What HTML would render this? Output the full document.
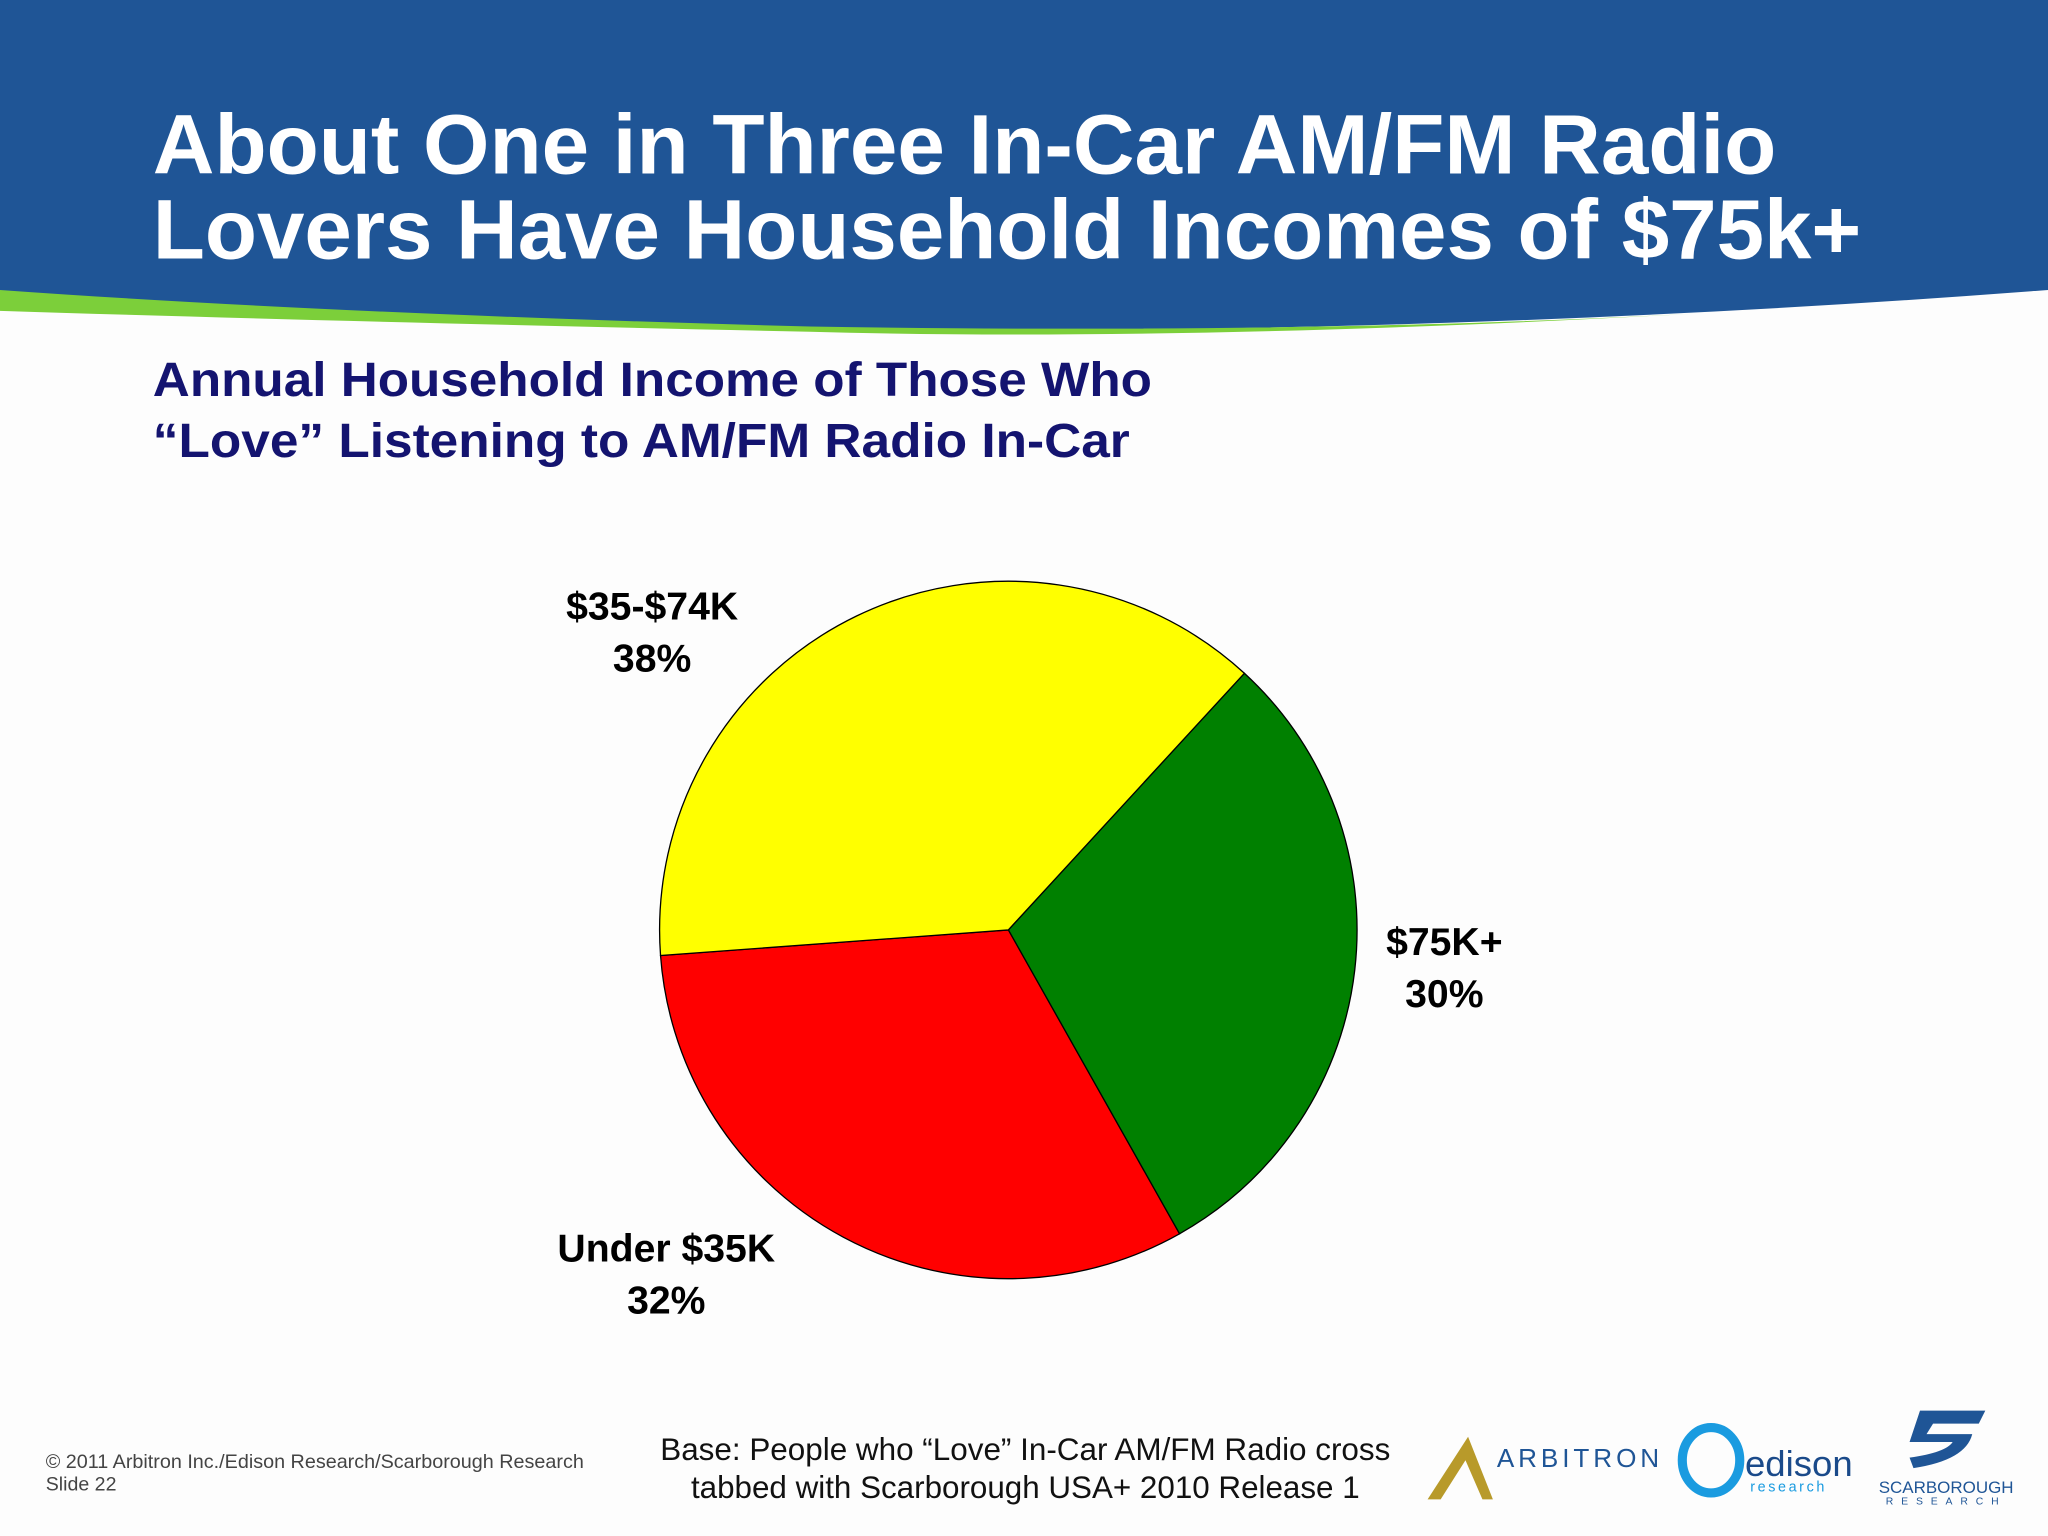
<!DOCTYPE html>
<html><head><meta charset="utf-8"><style>
html,body{margin:0;padding:0;background:#fff}
svg{display:block;font-family:"Liberation Sans",Arial,sans-serif}
</style></head><body>
<svg width="2048" height="1536" viewBox="0 0 1568 1176" xmlns="http://www.w3.org/2000/svg">
<rect width="1568" height="1176" fill="#fdfdfd"/>
<g>
<path d="M0 0H1568V222Q1100 258 620 252Q250 245 0 224Z" fill="#1f5596"/>
<path d="M0 222Q250 240 620 250Q1000 256 1300 240Q900 262 620 254Q250 246 0 238Z" fill="#7ccf3a"/>
</g>
<text fill="#fff" font-weight="bold" font-size="65" x="117" y="133" textLength="1243" lengthAdjust="spacingAndGlyphs">About One in Three In-Car AM/FM Radio</text>
<text fill="#fff" font-weight="bold" font-size="65" x="117" y="198" textLength="1308" lengthAdjust="spacingAndGlyphs">Lovers Have Household Incomes of $75k+</text>
<text fill="#141470" font-weight="bold" font-size="37" x="117" y="303" textLength="765" lengthAdjust="spacingAndGlyphs">Annual Household Income of Those Who</text>
<text fill="#141470" font-weight="bold" font-size="37" x="117" y="350" textLength="748" lengthAdjust="spacingAndGlyphs">“Love” Listening to AM/FM Radio In-Car</text>
<g id="pie"></g>
<g id="labels" font-weight="bold" font-size="30" fill="#000" text-anchor="middle"></g>
<text x="35" y="1124" font-size="15" fill="#444" textLength="412" lengthAdjust="spacingAndGlyphs">© 2011 Arbitron Inc./Edison Research/Scarborough Research</text>
<text x="35" y="1141" font-size="15" fill="#444">Slide 22</text>
<text x="785" y="1118" font-size="24" text-anchor="middle" fill="#111" textLength="559" lengthAdjust="spacingAndGlyphs">Base: People who “Love” In-Car AM/FM Radio cross</text>
<text x="785" y="1147" font-size="24" text-anchor="middle" fill="#111" textLength="512" lengthAdjust="spacingAndGlyphs">tabbed with Scarborough USA+ 2010 Release 1</text>
<g>
<path d="M1093 1148L1124 1100L1143 1148L1135 1148L1122 1118L1103 1148Z" fill="#b89a2a"/>
<text x="1146" y="1123" font-size="20" fill="#1f5596" letter-spacing="3">ARBITRON</text>
</g>
<g>
<ellipse cx="1310" cy="1118" rx="22" ry="25" fill="none" stroke="#1a9be0" stroke-width="7"/>
<text x="1336" y="1130" font-size="28" fill="#1a4a8a">edison</text>
<text x="1340" y="1142" font-size="11" fill="#1a9be0" letter-spacing="2">research</text>
</g>
<g>
<path d="M1470 1080H1520L1515 1090H1480L1475 1098H1510Q1505 1118 1465 1124L1462 1116Q1490 1112 1495 1104H1462Z" fill="#1f5596"/>
<text x="1490" y="1143" font-size="13" text-anchor="middle" fill="#1f5596">SCARBOROUGH</text>
<text x="1490" y="1152" font-size="8" text-anchor="middle" fill="#1f5596" letter-spacing="6">RESEARCH</text>
</g>
</svg>
<script>
const categories=["$75K+","Under $35K","$35-$74K"];
const values=[30,32,38];
const colors=["#008000","#ff0000","#ffff00"];
const startAngle=42.6;
const cx=772,cy=712,r=267;
const ns="http://www.w3.org/2000/svg";
const pie=document.getElementById('pie');
const lab=document.getElementById('labels');
const total=values.reduce((a,b)=>a+b,0);
function pt(deg,rad){const a=deg*Math.PI/180;return [cx+rad*Math.sin(a),cy-rad*Math.cos(a)];}
let a0=startAngle;
const labelDist=[335,371,356];
const labelAngleShift=[-1.8,16.7,-24.2];
values.forEach((v,i)=>{
  const sweep=v/total*360,a1=a0+sweep;
  const p0=pt(a0,r),p1=pt(a1,r);
  const p=document.createElementNS(ns,'path');
  p.setAttribute('d',`M${cx} ${cy}L${p0[0]} ${p0[1]}A${r} ${r} 0 ${sweep>180?1:0} 1 ${p1[0]} ${p1[1]}Z`);
  p.setAttribute('fill',colors[i]);p.setAttribute('stroke','#000');p.setAttribute('stroke-width','1');
  
  
  pie.appendChild(p);
  const m=pt((a0+a1)/2+labelAngleShift[i],labelDist[i]);
  const t1=document.createElementNS(ns,'text');
  t1.setAttribute('x',m[0]);t1.setAttribute('y',m[1]-9);t1.textContent=categories[i];
  
  
  lab.appendChild(t1);
  const t2=document.createElementNS(ns,'text');
  t2.setAttribute('x',m[0]);t2.setAttribute('y',m[1]+31);t2.textContent=v+'%';
  
  
  lab.appendChild(t2);
  a0=a1;
});
</script>
</body></html>
